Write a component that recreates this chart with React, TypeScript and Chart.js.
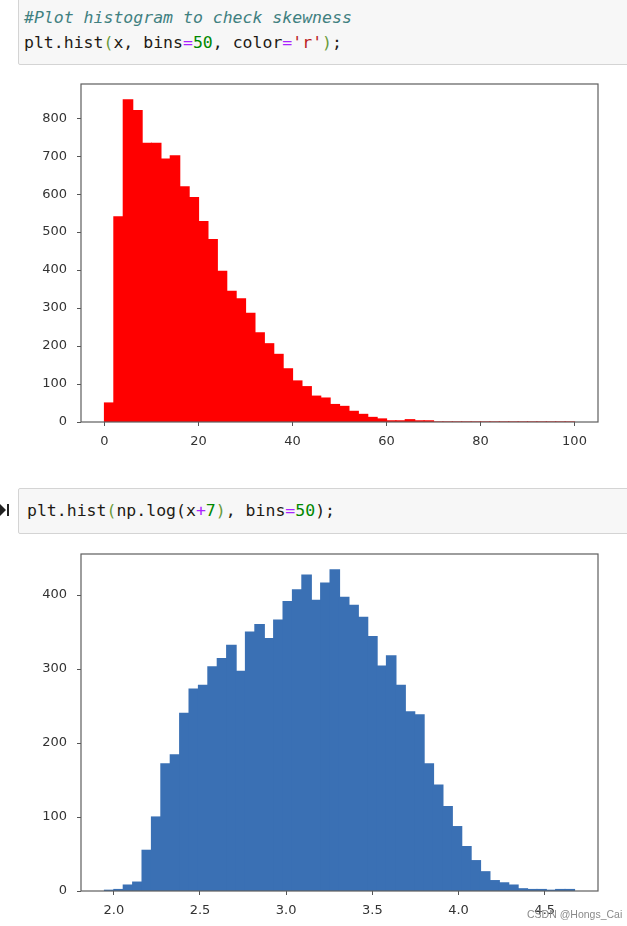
import React, { useEffect, useRef } from "react";
import { Chart, registerables } from "chart.js";

Chart.register(...registerables);

// ---- Histogram 1: plt.hist(x, bins=50, color='r') ----
const skewCounts = [
  50, 540, 848, 820, 734, 734, 692, 701, 619, 591,
  528, 480, 397, 344, 324, 286, 235, 206, 178, 140,
  108, 93, 68, 63, 46, 41, 28, 20, 12, 8,
  3, 3, 6, 3, 3, 0, 0, 0, 0, 0,
  0, 0, 0, 0, 0, 0, 0, 0, 0, 0,
];
const skewBinStart = 0;
const skewBinWidth = 2;
const skewXMin = -5;
const skewXMax = 105;
const skewYMax = 890;
const skewXTicks = [0, 20, 40, 60, 80, 100];
const skewXTickLabels = ["0", "20", "40", "60", "80", "100"];
const skewYTicks = [0, 100, 200, 300, 400, 500, 600, 700, 800];
const skewYTickLabels = ["0", "100", "200", "300", "400", "500", "600", "700", "800"];

// ---- Histogram 2: plt.hist(np.log(x+7), bins=50) ----
const logCounts = [
  1, 2, 8, 12, 55, 100, 172, 184, 240, 273,
  278, 303, 314, 332, 297, 350, 360, 341, 366, 391,
  407, 427, 393, 416, 434, 397, 386, 370, 344, 304,
  318, 278, 242, 238, 172, 143, 114, 87, 60, 41,
  26, 14, 11, 8, 3, 2, 2, 1, 2, 2,
];
const logBinStart = 1.94591;
const logBinWidth = 0.054538;
const logXMin = 1.8096;
const logXMax = 4.8092;
const logYMax = 455.5;
const logXTicks = [2.0, 2.5, 3.0, 3.5, 4.0, 4.5];
const logXTickLabels = ["2.0", "2.5", "3.0", "3.5", "4.0", "4.5"];
const logYTicks = [0, 100, 200, 300, 400];
const logYTickLabels = ["0", "100", "200", "300", "400"];

const framePlugin = {
  id: "frame",
  afterDraw(chart: any) {
    const { ctx, chartArea } = chart;
    ctx.save();
    ctx.strokeStyle = "#5e5e5e";
    ctx.lineWidth = 1.2;
    ctx.strokeRect(chartArea.left, chartArea.top, chartArea.right - chartArea.left, chartArea.bottom - chartArea.top);
    ctx.restore();
  },
};

type HistProps = {
  counts: number[];
  binStart: number;
  binWidth: number;
  color: string;
  xMin: number;
  xMax: number;
  yMax: number;
  xTicks: number[];
  xTickLabels: string[];
  yTicks: number[];
  yTickLabels: string[];
  top: number;
  height: number;
  padBottom: number;
};

function Histogram(p: HistProps) {
  const ref = useRef<HTMLCanvasElement | null>(null);
  useEffect(() => {
    if (!ref.current) return;
    const tickFont = { family: "'DejaVu Sans', sans-serif", size: 13 };
    const gridOpts = {
      display: true,
      drawOnChartArea: false,
      drawTicks: true,
      tickLength: 4,
      color: "#555",
      lineWidth: 1,
      offset: false,
    };
    const chart = new Chart(ref.current, {
      type: "bar",
      data: {
        datasets: [
          {
            data: p.counts.map((c, i) => ({ x: p.binStart + (i + 0.5) * p.binWidth, y: c })),
            backgroundColor: p.color,
            borderWidth: 0,
            barPercentage: 1,
            categoryPercentage: 1,
            inflateAmount: 0.6,
          } as any,
        ],
      },
      options: {
        animation: false,
        responsive: false,
        maintainAspectRatio: false,
        layout: { padding: { left: 41, right: 29, top: 14, bottom: p.padBottom } },
        plugins: { legend: { display: false }, tooltip: { enabled: false } },
        scales: {
          x: {
            type: "linear",
            min: p.xMin,
            max: p.xMax,
            offset: false,
            grid: gridOpts as any,
            border: { display: false },
            ticks: {
              autoSkip: false,
              maxRotation: 0,
              padding: 8,
              color: "#333",
              font: tickFont,
              callback: (_v: any, i: number) => p.xTickLabels[i],
            },
            afterBuildTicks: (s: any) => {
              s.ticks = p.xTicks.map((v) => ({ value: v }));
            },
            afterFit: (s: any) => {
              s.height = 30;
              s.paddingLeft = 0;
              s.paddingRight = 0;
            },
          },
          y: {
            type: "linear",
            min: 0,
            max: p.yMax,
            grid: gridOpts as any,
            border: { display: false },
            ticks: {
              autoSkip: false,
              padding: 10,
              color: "#333",
              font: tickFont,
              callback: (_v: any, i: number) => p.yTickLabels[i],
            },
            afterBuildTicks: (s: any) => {
              s.ticks = p.yTicks.map((v) => ({ value: v }));
            },
            afterFit: (s: any) => {
              s.width = 40;
              s.paddingTop = 0;
              s.paddingBottom = 0;
            },
          },
        },
      } as any,
      plugins: [framePlugin],
    });
    return () => chart.destroy();
  }, []);
  return (
    <canvas
      ref={ref}
      width={627}
      height={p.height}
      style={{ position: "absolute", left: 0, top: p.top, width: 627, height: p.height }}
    />
  );
}

const mono: React.CSSProperties = {
  position: "absolute",
  margin: 0,
  fontFamily: "'DejaVu Sans Mono', monospace",
  fontSize: "16.5px",
  lineHeight: "25px",
  color: "#1e1a14",
  whiteSpace: "pre",
};

const C = {
  comment: "#408080",
  op: "#AA22FF",
  num: "#008800",
  str: "#BA2121",
  bracket: "#6a9a3a",
};

export default function App() {
  return (
    <div
      style={{
        position: "fixed",
        left: 0,
        top: 0,
        width: 627,
        height: 926,
        overflow: "hidden",
        background: "#fff",
      }}
    >
      {/* code cell 1 */}
      <div
        style={{
          position: "absolute",
          left: 18,
          top: -6,
          width: 640,
          height: 69,
          background: "#f7f7f7",
          border: "1px solid #d4d4d4",
          borderRadius: 2,
        }}
      />
      <pre style={{ ...mono, left: 24, top: 5 }}>
        <span style={{ color: C.comment, fontStyle: "italic" }}>#Plot histogram to check skewness</span>
        {"\n"}
        <span>plt.hist</span>
        <span style={{ color: C.bracket }}>(</span>
        <span>x, bins</span>
        <span style={{ color: C.op }}>=</span>
        <span style={{ color: C.num }}>50</span>
        <span>, color</span>
        <span style={{ color: C.op }}>=</span>
        <span style={{ color: C.str }}>'r'</span>
        <span style={{ color: C.bracket }}>)</span>
        <span>;</span>
      </pre>

      <Histogram
        counts={skewCounts}
        binStart={skewBinStart}
        binWidth={skewBinWidth}
        color="#ff0000"
        xMin={skewXMin}
        xMax={skewXMax}
        yMax={skewYMax}
        xTicks={skewXTicks}
        xTickLabels={skewXTickLabels}
        yTicks={skewYTicks}
        yTickLabels={skewYTickLabels}
        top={70}
        height={390}
        padBottom={8}
      />

      {/* code cell 2 */}
      <div
        style={{
          position: "absolute",
          left: 0,
          top: 504,
          width: 0,
          height: 0,
          borderTop: "6px solid transparent",
          borderBottom: "6px solid transparent",
          borderLeft: "6px solid #222",
        }}
      />
      <div style={{ position: "absolute", left: 7, top: 504, width: 2, height: 12, background: "#222" }} />
      <div
        style={{
          position: "absolute",
          left: 18,
          top: 488,
          width: 640,
          height: 44,
          background: "#f7f7f7",
          border: "1px solid #d4d4d4",
          borderRadius: 2,
        }}
      />
      <pre style={{ ...mono, left: 27, top: 498 }}>
        <span>plt.hist</span>
        <span style={{ color: C.bracket }}>(</span>
        <span>np.log(x</span>
        <span style={{ color: C.op }}>+</span>
        <span style={{ color: C.num }}>7</span>
        <span style={{ color: C.bracket }}>)</span>
        <span>, bins</span>
        <span style={{ color: C.op }}>=</span>
        <span style={{ color: C.num }}>50</span>
        <span>);</span>
      </pre>

      <Histogram
        counts={logCounts}
        binStart={logBinStart}
        binWidth={logBinWidth}
        color="#3a70b4"
        xMin={logXMin}
        xMax={logXMax}
        yMax={logYMax}
        xTicks={logXTicks}
        xTickLabels={logXTickLabels}
        yTicks={logYTicks}
        yTickLabels={logYTickLabels}
        top={540}
        height={386}
        padBottom={5}
      />

      <div
        style={{
          position: "absolute",
          left: 527,
          top: 908,
          fontFamily: "'Liberation Sans', Arial, sans-serif",
          fontSize: "10.5px",
          color: "#8a8a8a",
          whiteSpace: "nowrap",
        }}
      >
        CSDN @Hongs_Cai
      </div>
    </div>
  );
}
